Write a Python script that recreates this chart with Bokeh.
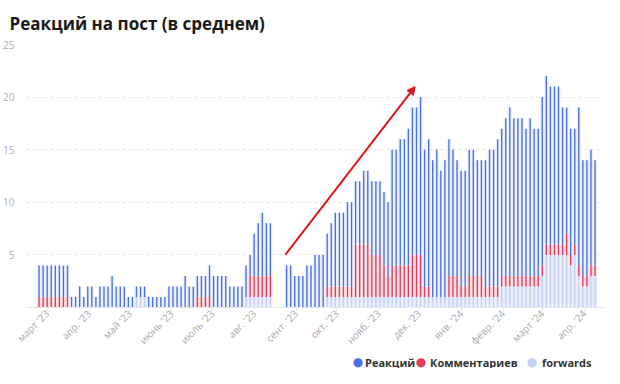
import math
import pandas as pd
from bokeh.plotting import figure
from bokeh.layouts import column
from bokeh.models import (ColumnDataSource, Range1d, FixedTicker, Label,
                          Arrow, NormalHead)
from bokeh.embed import file_html
from bokeh.resources import INLINE

# ---------------- data (one value per bar, bars every 3 days) ----------------
first_day = "2023-02-23"
step_days = 3

reactions = [
    3, 3, 3, 3, 3, 3, 3, 3,
    1, 1, 2, 1, 2, 2, 1, 2, 2, 2, 3, 2, 2, 2, 1, 1,
    1, 1, 1,
    1, 1, 1, 1, 1,
    2, 2, 2, 2, 3, 2, 2,
    2, 2, 2, 3,
    3, 3, 3, 3,
    2, 2, 2, 2,
    3, 2, 4, 5, 6, 5, 5,
    0, 0, 0,
    4, 4, 3, 3, 3, 4, 4,
    5, 5, 5,
    5, 6, 7, 7, 7, 8, 8,
    6, 6, 7, 7, 7, 7, 7, 7, 7,
    11, 11, 12, 12, 13, 14, 14, 15, 13, 14,
    13, 14, 12, 13, 13, 12, 11, 11, 11, 12, 12,
    11, 11, 12, 13, 13, 14,
    14, 15, 16, 15, 15, 15, 14, 15, 14, 14, 16,
    16, 15, 15, 15, 13, 12, 12, 11, 15, 11, 11, 11, 10,
]

comments = [
    1, 1, 1, 1, 1, 1, 1, 1,
    0, 0, 0, 0, 0, 0, 0, 0, 0, 0, 0, 0, 0, 0, 0, 0,
    0, 0, 0, 0, 0, 0, 0, 0, 0, 0, 0, 0, 0, 0, 0,
    1, 1, 1, 1,
    0, 0, 0, 0, 0, 0, 0, 0, 0,
    2, 2, 2, 2, 2, 2,
    0, 0, 0, 0, 0, 0, 0, 0, 0, 0, 0, 0, 0,
    1, 1, 1, 1, 1, 1, 1,
    5, 5, 5, 5,
    4, 4, 4,
    3,
    2,
    3, 3, 3, 3, 3,
    4, 4, 4,
    1, 1,
    0, 0, 0, 0,
    2, 2, 2,
    1, 1,
    2, 2, 2, 2,
    1, 1, 1, 1,
    1, 1, 1, 1, 1, 1, 1, 1, 1, 1, 1, 1, 1, 1, 1, 1,
    2,
    1, 1, 1, 1, 1, 1, 1,
]

forwards = [
    0, 0, 0, 0, 0, 0, 0, 0, 0, 0, 0, 0, 0, 0, 0, 0, 0, 0, 0, 0, 0, 0, 0, 0,
    1, 1, 1,
    0, 0, 0, 0, 0, 0, 0, 0, 0, 0, 0, 0, 0, 0, 0, 0, 0, 0, 0, 0, 0, 0, 0, 0,
    1, 1, 1, 1, 1, 1, 1,
    0, 0, 0, 0, 0, 0, 0, 0, 0, 0, 0, 0, 0,
    1, 1, 1, 1, 1, 1, 1, 1, 1, 1, 1, 1, 1, 1, 1, 1, 1, 1, 1, 1, 1, 1,
    1, 1, 1, 1, 1, 1, 1, 1, 1, 1, 1, 1, 1, 1, 1, 1, 1, 1, 1, 1, 1,
    2, 2, 2, 2, 2, 2, 2, 2, 2, 2,
    3,
    5, 5, 5, 5, 5, 5,
    4, 5, 3, 2, 2, 3, 3,
]

series_names = ["Реакций", "Комментариев", "forwards"]

month_ticks = ["2023-03-01", "2023-04-01", "2023-05-01", "2023-06-01", "2023-07-01",
               "2023-08-01", "2023-09-01", "2023-10-01", "2023-11-01", "2023-12-01",
               "2024-01-01", "2024-02-01", "2024-03-01", "2024-04-01"]
month_labels = ["март '23", "апр. '23", "май '23", "июнь '23", "июль '23", "авг. '23",
                "сент. '23", "окт. '23", "нояб. '23", "дек. '23", "янв. '24",
                "февр. '24", "март '24", "апр. '24"]
y_ticks = [5, 10, 15, 20, 25]

arrow_from = ("2023-08-24", 5)
arrow_to = ("2023-11-28", 21)

title_text = "Реакций на пост (в среднем)"

# ---------------- styling ----------------
keys = ["reactions", "comments", "forwards"]
solid = {"reactions": "#4a6ee8", "comments": "#e9395a", "forwards": "#c6cff6"}
tint = {"reactions": "#edf1fc", "comments": "#fbdfe4", "forwards": "#e9edfb"}
FONT = "Open Sans"
DAY_MS = 86400000


def ms(d):
    return pd.Timestamp(d).value // 10**6


dates = pd.date_range(first_day, periods=len(reactions), freq=f"{step_days}D")
src = ColumnDataSource(dict(date=dates, reactions=reactions, comments=comments,
                            forwards=forwards))

anchor = pd.Timestamp(month_ticks[0])
x_start = anchor - pd.Timedelta(days=15.3)
x_end = anchor + pd.Timedelta(days=412.0)

main = figure(width=604, height=355, x_axis_type="datetime", output_backend="svg",
              toolbar_location=None,
              x_range=Range1d(x_start, x_end),
              y_range=Range1d(0, 25),
              min_border_left=0, min_border_right=0, min_border_top=0,
              min_border_bottom=0)
main.background_fill_color = "white"
main.border_fill_color = "white"
main.outline_line_color = None

stack = ["forwards", "comments", "reactions"]
main.vbar_stack(stack, x="date", width=step_days * DAY_MS, source=src,
                color=[tint[s] for s in stack], line_width=0)
main.vbar_stack(stack, x="date", width=1.0 * DAY_MS, source=src,
                color=[solid[s] for s in stack], line_width=0)

# arrow annotation
red = "#e3141b"
main.add_layout(Arrow(x_start=ms(arrow_from[0]), y_start=arrow_from[1],
                      x_end=ms(arrow_to[0]), y_end=arrow_to[1],
                      line_color=red, line_width=2,
                      end=NormalHead(size=8, fill_color=red, line_color=red,
                                     line_width=1)))

# axes
tick_ms = [ms(t) for t in month_ticks]
xa = main.xaxis[0]
xa.ticker = FixedTicker(ticks=tick_ms)
xa.major_label_overrides = {t: lab for t, lab in zip(tick_ms, month_labels)}
xa.major_label_orientation = math.pi / 4
xa.major_label_text_font = FONT
xa.major_label_text_font_size = "10px"
xa.major_label_text_color = "#a8a8a8"
xa.axis_line_color = "#e8e8e8"
xa.major_tick_line_color = "#e8e8e8"
xa.major_tick_out = 4
xa.major_tick_in = 0
xa.minor_tick_line_color = None
xa.major_label_standoff = 0

ya = main.yaxis[0]
ya.ticker = FixedTicker(ticks=y_ticks)
ya.axis_line_color = None
ya.major_tick_line_color = None
ya.minor_tick_line_color = None
ya.major_label_text_font = FONT
ya.major_label_text_font_size = "10px"
ya.major_label_text_color = "#b0b0b0"
ya.major_label_standoff = 6

main.xgrid.visible = False
main.ygrid.ticker = FixedTicker(ticks=y_ticks)
main.ygrid.grid_line_color = "#e3e3e3"
main.ygrid.grid_line_dash = "3 3"

# title
main.title.text = title_text
main.title.text_font = FONT
main.title.text_font_size = "17px"
main.title.text_font_style = "bold"
main.title.text_color = "#1a1a1a"
main.title.align = "left"
main.title.offset = -17
main.title.standoff = 19

# ---------------- legend strip (its own small figure under the chart) ----------------
leg = figure(width=604, height=13, output_backend="svg", toolbar_location=None,
             x_range=Range1d(0, 604), y_range=Range1d(0, 13),
             min_border_left=0, min_border_right=0, min_border_top=0,
             min_border_bottom=0)
leg.axis.visible = False
leg.grid.visible = False
leg.outline_line_color = None
leg.background_fill_color = "white"
leg.border_fill_color = "white"

# screen offsets from the (column-aligned) frame's left edge
marker_x = [331.5, 394.5, 505.5]
label_x = [338.5, 403.5, 515.5]
for key, name, mx, lx in zip(keys, series_names, marker_x, label_x):
    leg.add_layout(Label(x=mx, y=6.5, x_units="screen", y_units="screen",
                         text="●", text_color=solid[key], text_font="DejaVu Sans",
                         text_font_size="12px", text_align="center",
                         text_baseline="middle"))
    leg.add_layout(Label(x=lx, y=6.5, x_units="screen", y_units="screen",
                         text=name, text_color="#333333", text_font=FONT,
                         text_font_size="11px", text_font_style="bold",
                         text_align="left", text_baseline="middle"))

p = column(main, leg, spacing=0)

open("out.html", "w").write(file_html(p, INLINE))
